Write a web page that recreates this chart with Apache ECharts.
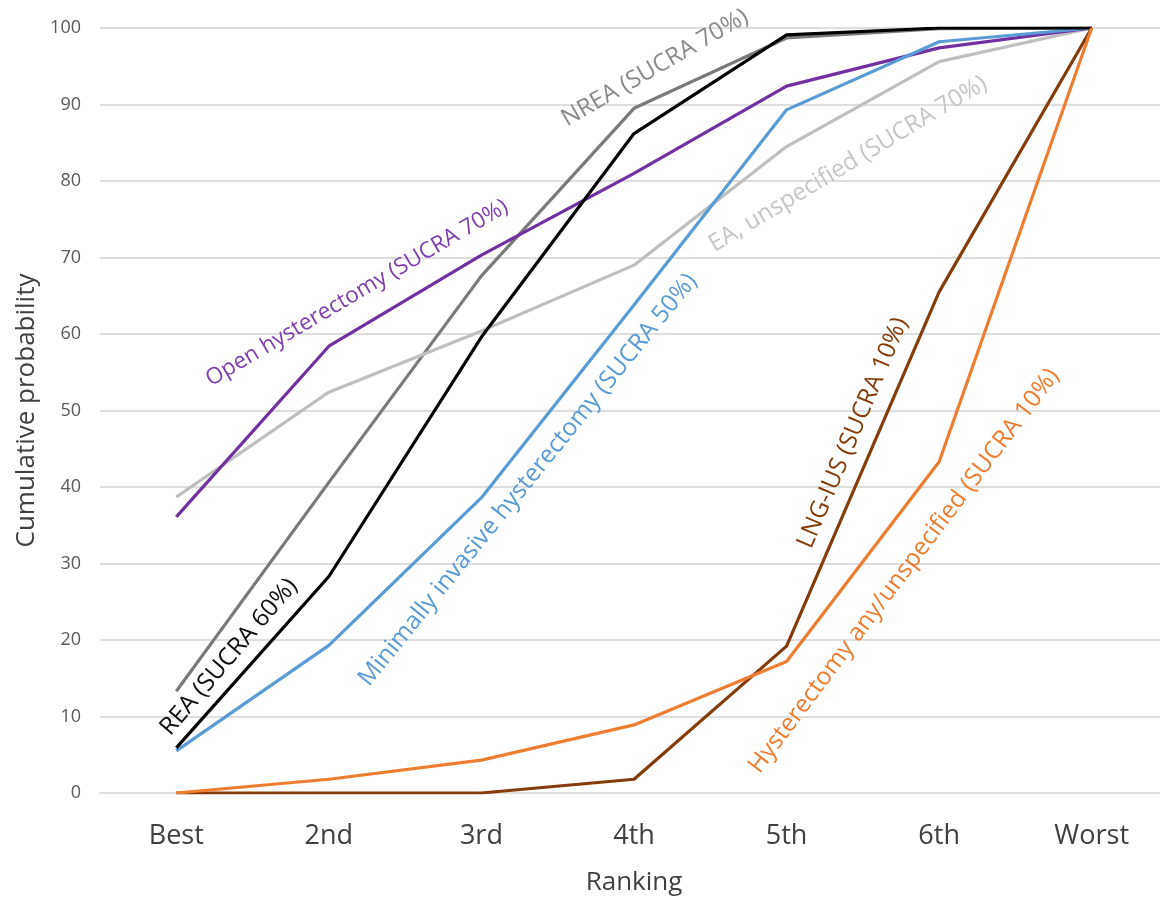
<!DOCTYPE html>
<html>
<head>
<meta charset="utf-8">
<script src="https://cdn.jsdelivr.net/npm/echarts@6/dist/echarts.min.js"></script>
<style>
  html, body { margin: 0; padding: 0; background: #ffffff; }
  #chart { width: 1160px; height: 901px; }
</style>
</head>
<body>
<div id="chart"></div>
<script>
// Ranking positions (x axis)
const rankings = ['Best', '2nd', '3rd', '4th', '5th', '6th', 'Worst'];

// Cumulative ranking probabilities (%) per intervention
const openHysterectomy = [36.1, 58.4, 70.3, 81.0, 92.4, 97.4, 100];
const nrea = [13.3, 40.6, 67.6, 89.5, 98.7, 99.9, 100];
const rea = [5.9, 28.3, 59.6, 86.2, 99.1, 100, 100];
const eaUnspecified = [38.7, 52.4, 60.4, 69.0, 84.5, 95.6, 100];
const minimallyInvasive = [5.5, 19.3, 38.6, 63.8, 89.3, 98.2, 100];
const lngIus = [0, 0, 0, 1.8, 19.2, 65.5, 100];
const hysterectomyAny = [0, 1.8, 4.3, 8.9, 17.2, 43.3, 100];

// Y axis ticks
const yTicks = [0, 10, 20, 30, 40, 50, 60, 70, 80, 90, 100];

const FONT = '"Open Sans", "Noto Sans", sans-serif';

const seriesDefs = [
  { name: 'NREA', data: nrea, color: '#7a7a7a' },
  { name: 'EA, unspecified', data: eaUnspecified, color: '#bfbfbf' },
  { name: 'Open hysterectomy', data: openHysterectomy, color: '#7030a0' },
  { name: 'Minimally invasive hysterectomy', data: minimallyInvasive, color: '#5b9bd5' },
  { name: 'REA', data: rea, color: '#000000' },
  { name: 'LNG-IUS', data: lngIus, color: '#843c0c' },
  { name: 'Hysterectomy any/unspecified', data: hysterectomyAny, color: '#ed7d31' }
];

// Rotated curve labels: centre point, angle in degrees, text, colour
const curveLabels = [
  { text: 'Open hysterectomy (SUCRA 70%)', x: 357, y: 293, angle: 30.5, color: '#7d3fb0', size: 22.5 },
  { text: 'NREA (SUCRA 70%)', x: 655, y: 68, angle: 30, color: '#8a8a8a', size: 24 },
  { text: 'EA, unspecified (SUCRA 70%)', x: 848, y: 164, angle: 31, color: '#c6c6c6', size: 24 },
  { text: 'Minimally invasive hysterectomy (SUCRA 50%)', x: 528, y: 480, angle: 51, color: '#5b9bd5', size: 24.5 },
  { text: 'REA (SUCRA 60%)', x: 229, y: 657, angle: 49.5, color: '#111111', size: 24.5 },
  { text: 'LNG-IUS (SUCRA 10%)', x: 853, y: 433, angle: 67, color: '#843c0c', size: 24.5 },
  { text: 'Hysterectomy any/unspecified (SUCRA 10%)', x: 904, y: 571, angle: 53, color: '#ed7d31', size: 24.5 }
];

const chart = echarts.init(document.getElementById('chart'), null, { renderer: 'canvas' });

const option = {
  backgroundColor: '#ffffff',
  animation: false,
  grid: { left: 100, top: 28, right: -8, bottom: 108, containLabel: false, outerBoundsMode: 'none' },
  xAxis: {
    type: 'category',
    data: rankings,
    boundaryGap: true,
    name: 'Ranking',
    nameLocation: 'middle',
    nameGap: 77,
    nameTextStyle: { fontFamily: FONT, fontSize: 26, color: '#404040' },
    axisLine: { show: true, lineStyle: { color: '#dedede', width: 2 } },
    axisTick: { show: false },
    axisLabel: { fontFamily: FONT, fontSize: 27, color: '#404040', margin: 30 },
    splitLine: { show: false }
  },
  yAxis: {
    type: 'value',
    min: yTicks[0],
    max: yTicks[yTicks.length - 1],
    interval: 10,
    name: 'Cumulative probability',
    nameLocation: 'middle',
    nameGap: 58,
    nameTextStyle: { fontFamily: FONT, fontSize: 26, color: '#404040' },
    axisLine: { show: false },
    axisTick: { show: false },
    axisLabel: { fontFamily: FONT, fontSize: 18, color: '#595959', margin: 19 },
    splitLine: { show: true, lineStyle: { color: '#dedede', width: 2 } }
  },
  series: seriesDefs.map(s => ({
    name: s.name,
    type: 'line',
    data: s.data,
    symbol: 'none',
    smooth: false,
    lineStyle: { color: s.color, width: 3.2 },
    itemStyle: { color: s.color },
    z: 3
  })),
  graphic: curveLabels.map(l => ({
    type: 'text',
    x: l.x,
    y: l.y,
    rotation: l.angle * Math.PI / 180,
    z: 10,
    style: {
      text: l.text,
      fill: l.color,
      font: l.size + 'px ' + FONT,
      align: 'center',
      verticalAlign: 'middle'
    }
  }))
};

chart.setOption(option);
</script>
</body>
</html>
